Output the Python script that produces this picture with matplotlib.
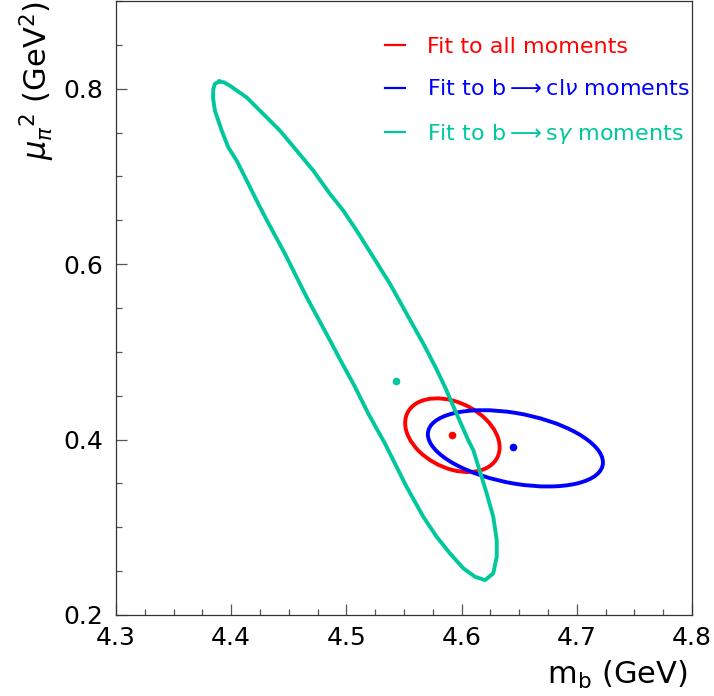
import numpy as np
import matplotlib
matplotlib.use('Agg')
import matplotlib.pyplot as plt
from matplotlib.patches import Ellipse
from matplotlib.lines import Line2D
from matplotlib.transforms import Affine2D
from matplotlib.ticker import MultipleLocator

# fit results: central values of (m_b, mu_pi^2)
labels = ['Fit to all moments',
          r'Fit to b$\longrightarrow$cl$\nu$ moments',
          r'Fit to b$\longrightarrow$s$\gamma$ moments']
colors = ['#ff0000', '#0000ff', '#00c89c']
mb_central = [4.5917, 4.6444, 4.543]
mupi_central = [0.4057, 0.3916, 0.4664]

# contour ellipses for the all-moments and b->clv fits: centre, half widths, correlation
ell_cx = [4.592, 4.6467]
ell_cy = [0.405, 0.390]
ell_sx = [0.041, 0.076]
ell_sy = [0.042, 0.0435]
ell_rho = [-0.33, -0.37]

# b -> s gamma contour (not quite an ellipse), read off point by point
bsg_mb = [4.3897, 4.3859, 4.3845, 4.3842, 4.3859, 4.3918, 4.3975, 4.4048, 4.4135, 4.4221,
          4.4311, 4.4467, 4.4655, 4.4858, 4.4949, 4.5075, 4.5190, 4.5335, 4.5407, 4.5523,
          4.5668, 4.5784, 4.5899, 4.6015, 4.6116, 4.6203, 4.6275, 4.6305, 4.6305, 4.6275,
          4.6218, 4.6160, 4.6102, 4.6058, 4.5943, 4.5856, 4.5773, 4.5668, 4.5523, 4.5378,
          4.5234, 4.5089, 4.4973, 4.4858, 4.4713, 4.4569, 4.4424, 4.4279, 4.4135, 4.3990,
          4.3938, 4.3897]
bsg_mupi = [0.8082, 0.8056, 0.7999, 0.7896, 0.7748, 0.7521, 0.7331, 0.7179, 0.6952, 0.6724,
            0.6496, 0.6117, 0.5623, 0.5130, 0.4903, 0.4599, 0.4296, 0.3954, 0.3764, 0.3460,
            0.3119, 0.2891, 0.2702, 0.2532, 0.2436, 0.2398, 0.2475, 0.2664, 0.2854, 0.3119,
            0.3385, 0.3631, 0.3878, 0.3992, 0.4334, 0.4599, 0.4826, 0.5093, 0.5434, 0.5776,
            0.6079, 0.6382, 0.6610, 0.6800, 0.7065, 0.7293, 0.7521, 0.7711, 0.7900, 0.8033,
            0.8073, 0.8082]

plt.rcParams['font.family'] = 'DejaVu Sans'

fig = plt.figure(figsize=(7.14, 6.96), dpi=100)
ax = fig.add_axes([116/714, 81/696, 576/714, 614/696])

for i in range(2):
    r = ell_rho[i]
    tr = Affine2D(np.array([[ell_sx[i], 0, ell_cx[i]],
                            [ell_sy[i]*r, ell_sy[i]*np.sqrt(1-r*r), ell_cy[i]],
                            [0, 0, 1]])) + ax.transData
    e = Ellipse((0, 0), 2, 2, fill=False, edgecolor=colors[i], lw=2.8, transform=tr)
    ax.add_patch(e)
ax.plot(bsg_mb, bsg_mupi, color=colors[2], lw=2.8, solid_joinstyle='round')

for i in range(3):
    ax.plot(mb_central[i], mupi_central[i], 'o', color=colors[i], ms=5.5, mec='none')

ax.set_xlim(4.3, 4.8)
ax.set_ylim(0.2, 0.9)
ax.xaxis.set_major_locator(MultipleLocator(0.1))
ax.xaxis.set_minor_locator(MultipleLocator(0.025))
ax.yaxis.set_major_locator(MultipleLocator(0.2))
ax.yaxis.set_minor_locator(MultipleLocator(0.05))
ax.tick_params(which='both', direction='in', color='#555555', width=0.9, labelsize=18)
ax.tick_params(which='major', length=8)
ax.tick_params(which='minor', length=4.3)
ax.tick_params(axis='x', pad=8)
ax.tick_params(axis='y', pad=9)
for sp in ax.spines.values():
    sp.set_color('#333333')
    sp.set_linewidth(0.9)

handles = [Line2D([], [], color=c, lw=1.6) for c in colors]
leg = ax.legend(handles, labels, loc='upper left', bbox_to_anchor=(0.467, 0.941),
                frameon=False, fontsize=16, handlelength=0.9, handletextpad=1.0,
                labelspacing=1.0, borderpad=0, borderaxespad=0, labelcolor='linecolor')

fig.text(688/714, 1 - 675/696, r'm$_{\mathregular{b}}$ (GeV)', ha='right', va='center', fontsize=22)
fig.text(37/714, 1 - 1/696, r'$\mu_{\pi}{}^{2}$ (GeV$^{2}$)', ha='center', va='top',
         rotation=90, fontsize=22)

fig.savefig('out.png', dpi=100)
